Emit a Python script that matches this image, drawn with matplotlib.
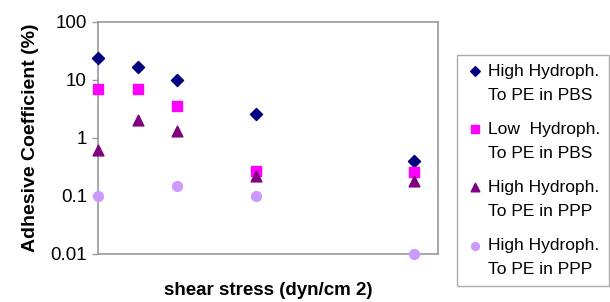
import matplotlib
matplotlib.use("Agg")
import matplotlib.pyplot as plt
import numpy as np

plt.rcParams['font.family'] = ['Liberation Sans', 'DejaVu Sans']

x_hi_pbs = [0, 1, 2, 4, 8]
y_hi_pbs = [24, 16.5, 10, 2.6, 0.4]
x_lo_pbs = [0, 1, 2, 4, 8]
y_lo_pbs = [7, 7, 3.6, 0.27, 0.26]
x_hi_ppp = [0, 1, 2, 4, 8]
y_hi_ppp = [0.62, 2.05, 1.32, 0.22, 0.18]
x_hi_ppp2 = [0, 2, 4, 8]
y_hi_ppp2 = [0.1, 0.148, 0.1, 0.01]

labels = ["High Hydroph.\nTo PE in PBS", "Low  Hydroph.\nTo PE in PBS",
          "High Hydroph.\nTo PE in PPP", "High Hydroph.\nTo PE in PPP"]
yticks = [0.01, 0.1, 1, 10, 100]
ytick_labels = ["0.01", "0.1", "1", "10", "100"]

fig = plt.figure(figsize=(6.10, 3.02), dpi=100)
ax = fig.add_axes([98/610, 1-254/302, (438-98)/610, (254-22)/302])

ax.scatter(x_hi_pbs, y_hi_pbs, marker='D', s=38, color='#000080', label=labels[0], clip_on=False, zorder=3)
ax.scatter(x_lo_pbs, y_lo_pbs, marker='s', s=55, color='#FF00FF', label=labels[1], clip_on=False, zorder=3)
ax.scatter(x_hi_ppp, y_hi_ppp, marker='^', s=60, color='#800080', label=labels[2], clip_on=False, zorder=3)
ax.scatter(x_hi_ppp2, y_hi_ppp2, marker='o', s=50, color='#CC99FF', label=labels[3], clip_on=False, zorder=3)

ax.set_yscale('log')
ax.set_ylim(0.01, 100)
ax.set_xlim(0, 8.6)
ax.set_yticks(yticks)
ax.set_yticklabels(ytick_labels, fontsize=13.5)
ax.minorticks_off()
ax.set_xticks([])
ax.tick_params(axis='y', length=4, color='#999999', width=1, pad=4)
for s in ax.spines.values():
    s.set_color('#999999')
    s.set_linewidth(1.2)

ax.set_ylabel("Adhesive Coefficient (%)", fontsize=14, fontweight='bold', labelpad=8)
ax.set_xlabel("shear stress (dyn/cm 2)", fontsize=13.5, fontweight='bold', labelpad=20)

leg = fig.legend(loc='upper left', bbox_to_anchor=(457/610, 1-55/302), fontsize=12.5,
                 frameon=True, fancybox=False, edgecolor='#999999', handletextpad=0.2,
                 borderpad=0.5, labelspacing=1.1, handlelength=1.1, scatterpoints=1,
                 markerscale=0.8, borderaxespad=0)
leg.get_frame().set_linewidth(1.0)
for t in leg.get_texts():
    t.set_linespacing(1.75)
try:
    for col in leg._legend_handle_box.get_children():
        for entry in col.get_children():
            entry.align = "top"
except Exception:
    pass

fig.savefig("out.png", dpi=100)
